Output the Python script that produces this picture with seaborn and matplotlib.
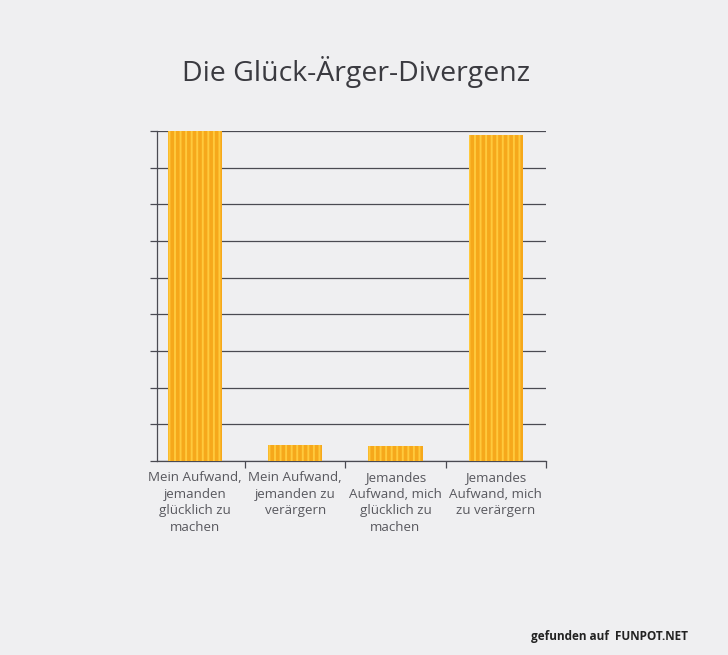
import matplotlib
matplotlib.use("Agg")
import matplotlib.pyplot as plt
import seaborn as sns

categories = [
    "Mein Aufwand,\njemanden\nglücklich zu\nmachen",
    "Mein Aufwand,\njemanden zu\nverärgern",
    "Jemandes\nAufwand, mich\nglücklich zu\nmachen",
    "Jemandes\nAufwand, mich\nzu verärgern",
]
values = [9.0, 0.45, 0.4, 8.9]
title = "Die Glück-Ärger-Divergenz"

sns.set_theme(style="white")
plt.rcParams["font.family"] = ["Open Sans", "DejaVu Sans"]
plt.rcParams["hatch.linewidth"] = 1.4

page = "#efeff1"
fig = plt.figure(figsize=(7.28, 6.55), dpi=100, facecolor=page)
ax = fig.add_axes([0.2157, 0.296, 0.534, 0.504])
ax.set_facecolor(page)

sns.barplot(x=categories, y=values, color="#f6a81b", width=0.54,
            saturation=1, ax=ax, zorder=3)
for bar in ax.patches:
    bar.set_hatch("|||")
    bar.set_edgecolor("#ffc93c")
    bar.set_linewidth(0)

ax.set_xlim(-0.38, 3.5)
ax.set_ylim(0, 9)
ax.set_yticks(range(0, 10))
ax.set_yticklabels([])
ax.yaxis.grid(True, color="#4a4a52", linewidth=0.9, zorder=1)
ax.xaxis.grid(False)

for side in ["top", "right"]:
    ax.spines[side].set_visible(False)
for side in ["left", "bottom"]:
    ax.spines[side].set_color("#4a4a52")
    ax.spines[side].set_linewidth(0.9)

ax.tick_params(axis="y", which="major", left=True, length=5, width=0.9,
               color="#4a4a52", direction="out")
ax.set_xticks([0.5, 1.5, 2.5, 3.5], minor=True)
ax.tick_params(axis="x", which="minor", bottom=True, length=5, width=0.9,
               color="#4a4a52", direction="out")
ax.tick_params(axis="x", which="major", length=0, pad=7, labelsize=9.6,
               labelcolor="#58585e")
for lbl in ax.get_xticklabels():
    lbl.set_linespacing(1.38)
    lbl.set_verticalalignment("top")
ax.set_xlabel("")
ax.set_ylabel("")

fig.text(0.489, 0.89, title, ha="center", va="center", fontsize=20.5,
         color="#3a3a40")

fig.text(0.945, 0.018, "gefunden auf  FUNPOT.NET", ha="right", va="bottom",
         fontsize=8.5, color="#222222", fontweight="bold")

fig.savefig("out.png", dpi=100, facecolor=page)
